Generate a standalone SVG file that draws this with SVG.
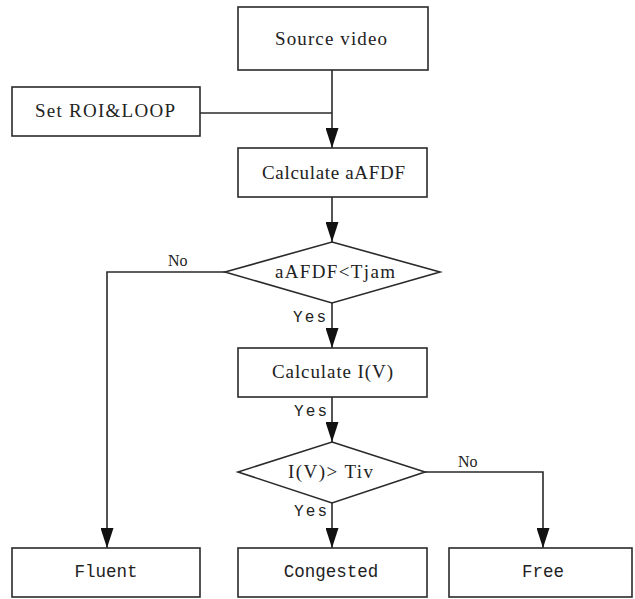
<svg xmlns="http://www.w3.org/2000/svg" width="635" height="599" viewBox="0 0 635 599">
  <style>
    .box { fill: #ffffff; stroke: #2a2a2a; stroke-width: 1.6; }
    .wire { fill: none; stroke: #2a2a2a; stroke-width: 1.6; }
    .serif { font-family: "Liberation Serif", "Times New Roman", serif; font-size: 19px; fill: #222; }
    .mono { font-family: "Liberation Mono", "Courier New", monospace; font-size: 17.5px; fill: #222; }
    .lbl { font-family: "Liberation Serif", "Times New Roman", serif; font-size: 16px; fill: #222; }
    .lblm { font-family: "Liberation Mono", "Courier New", monospace; font-size: 16px; fill: #222; }
  </style>
  <defs>
    <marker id="arrow" markerUnits="userSpaceOnUse" markerWidth="20" markerHeight="13" refX="20" refY="6.5" orient="auto">
      <path d="M0,0 L20,6.5 L0,13 Z" fill="#111"/>
    </marker>
  </defs>
  <rect width="635" height="599" fill="#ffffff"/>

  <!-- connectors -->
  <g id="connectors">
    <line class="wire" x1="332" y1="70" x2="332" y2="148" marker-end="url(#arrow)"/>
    <line class="wire" x1="200" y1="113" x2="332" y2="113"/>
    <line class="wire" x1="332" y1="197" x2="332" y2="242" marker-end="url(#arrow)"/>
    <polyline class="wire" points="225,272 107,272 107,548" marker-end="url(#arrow)"/>
    <line class="wire" x1="332" y1="303" x2="332" y2="348" marker-end="url(#arrow)"/>
    <line class="wire" x1="332" y1="397" x2="332" y2="442" marker-end="url(#arrow)"/>
    <line class="wire" x1="332" y1="503" x2="332" y2="548" marker-end="url(#arrow)"/>
    <polyline class="wire" points="425,472 543,472 543,548" marker-end="url(#arrow)"/>
    <text class="lbl" x="168" y="266">No</text>
    <text class="lblm" x="293" y="322" textLength="33" lengthAdjust="spacing">Yes</text>
    <text class="lblm" x="294" y="416" textLength="33" lengthAdjust="spacing">Yes</text>
    <text class="lblm" x="294" y="516" textLength="33" lengthAdjust="spacing">Yes</text>
    <text class="lbl" x="458" y="467">No</text>
  </g>

  <g id="source-video">
    <rect class="box" x="238" y="7" width="190" height="63"/>
    <text class="serif" x="275" y="45" textLength="112" lengthAdjust="spacing">Source video</text>
  </g>

  <g id="set-roi-loop">
    <rect class="box" x="12" y="87" width="188" height="49"/>
    <text class="serif" x="35" y="117" textLength="140" lengthAdjust="spacing">Set ROI&amp;LOOP</text>
  </g>

  <g id="calculate-aafdf">
    <rect class="box" x="238" y="148" width="189" height="49"/>
    <text class="serif" x="262" y="179" textLength="143" lengthAdjust="spacing">Calculate aAFDF</text>
  </g>

  <g id="decision-tjam">
    <polygon class="box" points="332,242 440,272 332,303 225,272"/>
    <text class="serif" x="275" y="278" textLength="120" lengthAdjust="spacing">aAFDF&lt;Tjam</text>
  </g>

  <g id="calculate-iv">
    <rect class="box" x="238" y="348" width="189" height="49"/>
    <text class="serif" x="272" y="378" textLength="121" lengthAdjust="spacing">Calculate I(V)</text>
  </g>

  <g id="decision-tiv">
    <polygon class="box" points="332,442 425,472 332,503 238,472"/>
    <text class="serif" x="288" y="478" textLength="85" lengthAdjust="spacing">I(V)&gt; Tiv</text>
  </g>

  <g id="fluent">
    <rect class="box" x="12" y="548" width="188" height="49"/>
    <text class="mono" x="106" y="577" text-anchor="middle">Fluent</text>
  </g>

  <g id="congested">
    <rect class="box" x="238" y="548" width="189" height="49"/>
    <text class="mono" x="331" y="577" text-anchor="middle">Congested</text>
  </g>

  <g id="free">
    <rect class="box" x="449" y="548" width="183" height="49"/>
    <text class="mono" x="543" y="577" text-anchor="middle">Free</text>
  </g>
</svg>
